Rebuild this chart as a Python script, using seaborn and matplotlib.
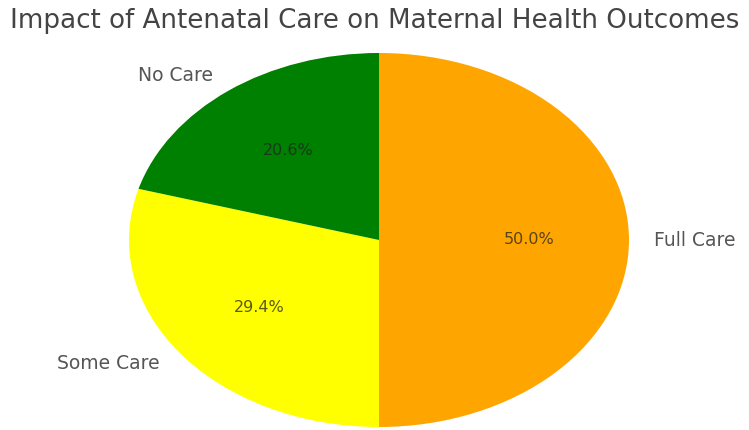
import matplotlib
matplotlib.use("Agg")
import matplotlib.pyplot as plt
import seaborn as sns

# Antenatal care groups and the number of pregnancies in each
categories = ["Full Care", "Some Care", "No Care"]
counts = [85, 50, 35]
slice_colors = ["orange", "yellow", "green"]

sns.set_theme(style="white")
plt.rcParams["font.family"] = ["DejaVu Sans"]

fig = plt.figure(figsize=(7.49, 4.30), dpi=100)
# axes box sized so the pie is drawn as a wide ellipse
ax = fig.add_axes([66.5 / 749, 3 / 430, 625 / 749, 374 / 430])

wedges, label_texts, pct_texts = ax.pie(
    counts,
    labels=categories,
    colors=slice_colors,
    autopct="%1.1f%%",
    startangle=90,
    counterclock=False,
    labeldistance=1.1,
    pctdistance=0.6,
    wedgeprops={"linewidth": 0, "edgecolor": "none"},
    textprops={"fontsize": 13.5, "color": "#555555"},
)
for t in pct_texts:
    t.set_fontsize(11.5)
    t.set_color("#222222")
    t.set_alpha(0.75)

ax.set_aspect("auto")
ax.set_xlim(-1.25, 1.25)
ax.set_ylim(-1.0, 1.0)

fig.text(0.5, 1 - 21 / 430, "Impact of Antenatal Care on Maternal Health Outcomes",
         ha="center", va="center", fontsize=18.8, color="#444444")

fig.savefig("out.png", dpi=100)
